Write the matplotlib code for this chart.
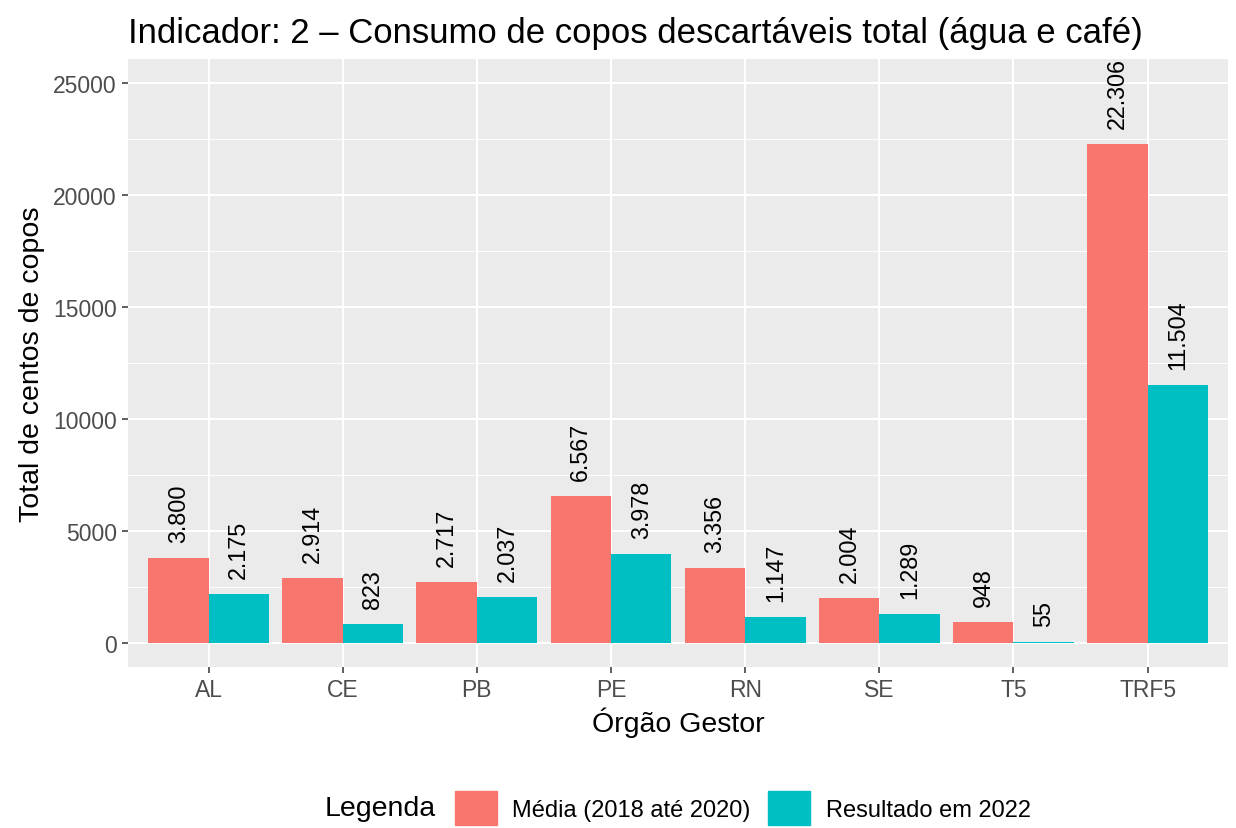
import matplotlib.pyplot as plt
from matplotlib.patches import Patch

plt.rcParams['font.family'] = ['Liberation Sans', 'DejaVu Sans']

orgaos = ['AL', 'CE', 'PB', 'PE', 'RN', 'SE', 'T5', 'TRF5']
media = [3800, 2914, 2717, 6567, 3356, 2004, 948, 22306]
resultado = [2175, 823, 2037, 3978, 1147, 1289, 55, 11504]

cor_media = '#F8766D'
cor_result = '#00BFC4'


def fmt(v):
    return f'{v:,}'.replace(',', '.')


fig = plt.figure(figsize=(12.36, 8.29), dpi=100)
ax = fig.add_axes([0.1036, 0.1942, 0.8900, 0.7334])
ax.set_facecolor('#EBEBEB')

x = list(range(len(orgaos)))
w = 0.45
b1 = ax.bar([i - w / 2 for i in x], media, width=w, color=cor_media, zorder=3)
b2 = ax.bar([i + w / 2 for i in x], resultado, width=w, color=cor_result, zorder=3)

for bars, vals in [(b1, media), (b2, resultado)]:
    for bar, v in zip(bars, vals):
        ax.annotate(fmt(v), (bar.get_x() + bar.get_width() / 2, v),
                    xytext=(0, 11.5), textcoords='offset points',
                    rotation=90, ha='center', va='bottom', fontsize=16.8, zorder=4)

ax.set_xlim(-0.6, 7.6)
ax.set_ylim(-1080, 26080)
ax.set_xticks(x)
ax.set_xticklabels(orgaos)
ax.set_yticks([0, 5000, 10000, 15000, 20000, 25000])
ax.set_yticks([2500, 7500, 12500, 17500, 22500], minor=True)

ax.grid(which='major', color='white', linewidth=1.5, zorder=0)
ax.grid(which='minor', axis='y', color='white', linewidth=0.75, zorder=0)
ax.tick_params(which='major', labelsize=16.5, colors='#4D4D4D', length=4.5, width=1.1,
               color='#333333', pad=3.5)
ax.tick_params(which='minor', length=0)
for s in ax.spines.values():
    s.set_visible(False)

ax.set_xlabel('Órgão Gestor', fontsize=20.5, labelpad=4)
ax.set_ylabel('Total de centos de copos', fontsize=20.5, labelpad=6)
ax.set_title('Indicador: 2 – Consumo de copos descartáveis total (água e café)',
             fontsize=25, loc='left', pad=12)

handles = [Patch(color=cor_media, label='Média (2018 até 2020)'),
           Patch(color=cor_result, label='Resultado em 2022')]
fig.text(436 / 1236, 1 - 809 / 829, 'Legenda', fontsize=20.5, ha='right', va='center')
fig.legend(handles=handles, loc='center left', bbox_to_anchor=(455 / 1236, 1 - 809 / 829),
           ncol=2, frameon=False, fontsize=17, handlelength=1.78, handleheight=1.78,
           handletextpad=0.64, columnspacing=0.76, borderpad=0, borderaxespad=0)

fig.savefig('out.png', dpi=100)
